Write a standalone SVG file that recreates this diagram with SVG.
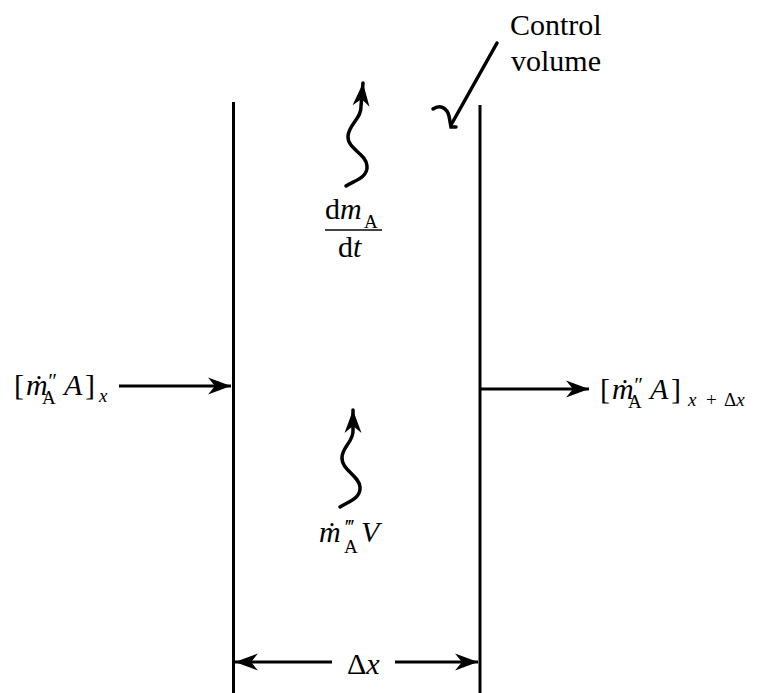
<svg xmlns="http://www.w3.org/2000/svg" width="760" height="693" viewBox="0 0 760 693">
<defs>
<style>
.i{font-style:italic}
.s{font-size:19px}
.p{font-size:21px;font-style:italic}
.wall{stroke:#000;stroke-width:3;fill:none}
.ln{stroke:#000;stroke-width:3;fill:none}
.wv{stroke:#000;stroke-width:3.5;fill:none;stroke-linecap:round}
</style>
<marker id="ah" markerUnits="userSpaceOnUse" markerWidth="30" markerHeight="24" viewBox="-24 -12 26 24" refX="0" refY="0" orient="auto">
<path d="M0,0 L-23,-8.5 L-16,0 L-23,8.5 Z" fill="#000"/>
</marker>
</defs>
<rect width="760" height="693" fill="#fff"/>
<g id="control-volume">
<line class="wall" x1="233.5" y1="102" x2="233.5" y2="693"/>
<line class="wall" x1="480" y1="105" x2="480" y2="693"/>
</g>
<g id="connectors">
<line class="ln" x1="119" y1="386" x2="231" y2="386" marker-end="url(#ah)"/>
<line class="ln" x1="481" y1="389" x2="589" y2="389" marker-end="url(#ah)"/>
<path class="wv" d="M346,186 C353,181 368,178 367,166 C366,153 347,149 348,136 C349,124 362,118 361,106 L363,83" marker-end="url(#ah)"/>
<path class="wv" d="M340,507 C347,502 361,499 360,487 C359,475 341,470 342,457 C343,446 354,441 353,430 L353,410" marker-end="url(#ah)"/>
<line class="ln" x1="332" y1="662" x2="235" y2="662" marker-end="url(#ah)"/>
<line class="ln" x1="395" y1="662" x2="478" y2="662" marker-end="url(#ah)"/>
<path class="wv" d="M497,43 L451,125"/>
<path class="wv" d="M433,109 C440,104 447,108 449,116 L451,127 L456,127"/>
</g>
<g font-family="Liberation Serif, Times New Roman, DejaVu Serif, serif" font-size="30" fill="#000">
<g id="label-in">
<text x="14" y="395">[<tspan class="i" x="26" y="395">ṁ</tspan><tspan class="s" x="42" y="404">A</tspan><tspan class="p" x="47" y="388">″</tspan><tspan class="i" x="64" y="395">A</tspan><tspan x="85" y="395">]</tspan><tspan class="s i" x="99" y="402">x</tspan></text>
</g>
<g id="label-out">
<text x="600" y="399">[<tspan class="i" x="612" y="399">ṁ</tspan><tspan class="s" x="628" y="408">A</tspan><tspan class="p" x="633" y="392">″</tspan><tspan class="i" x="650" y="399">A</tspan><tspan x="671" y="399">]</tspan><tspan class="s i" x="688" y="406">x</tspan><tspan class="s" x="706" y="406">+</tspan><tspan class="s" x="724" y="406">Δ</tspan><tspan class="s i">x</tspan></text>
</g>
<g id="label-dmdt">
<text x="325" y="219">d<tspan class="i">m</tspan><tspan class="s" x="364" y="228">A</tspan></text>
<line x1="325" y1="230" x2="382" y2="230" stroke="#444" stroke-width="2"/>
<text x="338" y="257">d<tspan class="i">t</tspan></text>
</g>
<g id="label-gen">
<text class="i" x="319" y="542">ṁ<tspan class="p" x="344" y="534">‴</tspan><tspan class="s" font-style="normal" x="344" y="553">A</tspan><tspan x="361" y="542">V</tspan></text>
</g>
<g id="label-dx">
<text x="347" y="674">Δ<tspan class="i">x</tspan></text>
</g>
<g id="label-cv">
<text x="510" y="35">Control</text>
<text x="511" y="71">volume</text>
</g>
</g>
</svg>
